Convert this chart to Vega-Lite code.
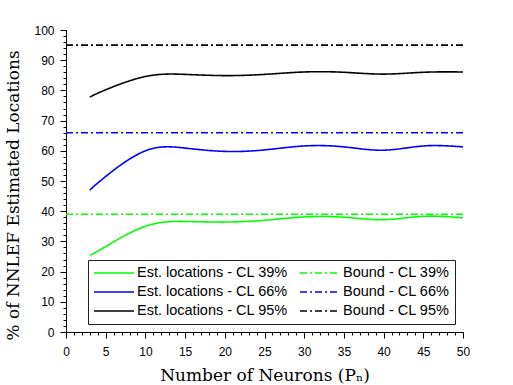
{
  "$schema": "https://vega.github.io/schema/vega-lite/v6.json",
  "width": 397,
  "height": 302,
  "autosize": {"type": "none"},
  "padding": {"left": 66, "top": 30, "right": 50, "bottom": 53},
  "background": "white",
  "config": {
    "view": {"stroke": null},
    "axis": {
      "domainColor": "black",
      "tickColor": "black",
      "labelColor": "black",
      "titleColor": "black",
      "labelFont": "Liberation Sans",
      "labelFontSize": 12,
      "titleFont": "DejaVu Serif",
      "titleFontSize": 17,
      "titleFontWeight": "normal",
      "grid": false,
      "domainWidth": 1,
      "tickWidth": 1
    }
  },
  "data": {
    "values": [
      {"kind": "est", "series": "Est. locations - CL 39%", "x": 3, "y": 25.4},
      {"kind": "est", "series": "Est. locations - CL 39%", "x": 5, "y": 28.3},
      {"kind": "est", "series": "Est. locations - CL 39%", "x": 10, "y": 35.0},
      {"kind": "est", "series": "Est. locations - CL 39%", "x": 15, "y": 36.6},
      {"kind": "est", "series": "Est. locations - CL 39%", "x": 20, "y": 36.4},
      {"kind": "est", "series": "Est. locations - CL 39%", "x": 25, "y": 37.0},
      {"kind": "est", "series": "Est. locations - CL 39%", "x": 30, "y": 38.1},
      {"kind": "est", "series": "Est. locations - CL 39%", "x": 35, "y": 38.0},
      {"kind": "est", "series": "Est. locations - CL 39%", "x": 40, "y": 37.2},
      {"kind": "est", "series": "Est. locations - CL 39%", "x": 45, "y": 38.3},
      {"kind": "est", "series": "Est. locations - CL 39%", "x": 50, "y": 37.8},
      {"kind": "est", "series": "Est. locations - CL 66%", "x": 3, "y": 47.0},
      {"kind": "est", "series": "Est. locations - CL 66%", "x": 5, "y": 51.5},
      {"kind": "est", "series": "Est. locations - CL 66%", "x": 10, "y": 60.0},
      {"kind": "est", "series": "Est. locations - CL 66%", "x": 15, "y": 60.9},
      {"kind": "est", "series": "Est. locations - CL 66%", "x": 20, "y": 59.8},
      {"kind": "est", "series": "Est. locations - CL 66%", "x": 25, "y": 60.3},
      {"kind": "est", "series": "Est. locations - CL 66%", "x": 30, "y": 61.6},
      {"kind": "est", "series": "Est. locations - CL 66%", "x": 35, "y": 61.3},
      {"kind": "est", "series": "Est. locations - CL 66%", "x": 40, "y": 60.2},
      {"kind": "est", "series": "Est. locations - CL 66%", "x": 45, "y": 61.6},
      {"kind": "est", "series": "Est. locations - CL 66%", "x": 50, "y": 61.3},
      {"kind": "est", "series": "Est. locations - CL 95%", "x": 3, "y": 77.8},
      {"kind": "est", "series": "Est. locations - CL 95%", "x": 5, "y": 80.2},
      {"kind": "est", "series": "Est. locations - CL 95%", "x": 10, "y": 84.6},
      {"kind": "est", "series": "Est. locations - CL 95%", "x": 15, "y": 85.3},
      {"kind": "est", "series": "Est. locations - CL 95%", "x": 20, "y": 84.9},
      {"kind": "est", "series": "Est. locations - CL 95%", "x": 25, "y": 85.3},
      {"kind": "est", "series": "Est. locations - CL 95%", "x": 30, "y": 86.1},
      {"kind": "est", "series": "Est. locations - CL 95%", "x": 35, "y": 86.0},
      {"kind": "est", "series": "Est. locations - CL 95%", "x": 40, "y": 85.4},
      {"kind": "est", "series": "Est. locations - CL 95%", "x": 45, "y": 86.0},
      {"kind": "est", "series": "Est. locations - CL 95%", "x": 50, "y": 86.1},
      {"kind": "bound", "series": "Bound - CL 39%", "x": 0, "y": 39},
      {"kind": "bound", "series": "Bound - CL 39%", "x": 50, "y": 39},
      {"kind": "bound", "series": "Bound - CL 66%", "x": 0, "y": 66},
      {"kind": "bound", "series": "Bound - CL 66%", "x": 50, "y": 66},
      {"kind": "bound", "series": "Bound - CL 95%", "x": 0, "y": 95},
      {"kind": "bound", "series": "Bound - CL 95%", "x": 50, "y": 95}
    ]
  },
  "layer": [
    {
      "transform": [{"filter": "datum.kind == 'est'"}],
      "mark": {"type": "line", "interpolate": "natural", "strokeWidth": 1.6},
      "encoding": {
        "x": {
          "field": "x", "type": "quantitative",
          "scale": {"domain": [0, 50], "nice": false, "zero": false},
          "axis": {
            "orient": "bottom",
            "values": [0, 5, 10, 15, 20, 25, 30, 35, 40, 45, 50],
            "tickSize": 6, "labelPadding": 8, "labelFlush": false,
            "title": "Number of Neurons (Pₙ)", "titleY": 35, "titleBaseline": "top"
          }
        },
        "y": {
          "field": "y", "type": "quantitative",
          "scale": {"domain": [0, 100], "nice": false},
          "axis": {
            "orient": "left",
            "values": [0, 10, 20, 30, 40, 50, 60, 70, 80, 90, 100],
            "tickSize": 6, "labelPadding": 6, "labelFlush": false,
            "title": "% of NNLEF Estimated Locations", "titleX": -44, "titleY": 165
          }
        },
        "color": {
          "field": "series", "type": "nominal",
          "scale": {
            "domain": ["Est. locations - CL 39%", "Est. locations - CL 66%", "Est. locations - CL 95%", "Bound - CL 39%", "Bound - CL 66%", "Bound - CL 95%"],
            "range": ["#00ff00", "#0000ff", "#000000", "#00ff00", "#0000ff", "#000000"]
          },
          "legend": {
            "orient": "none", "legendX": 22, "legendY": 230, "columns": 2,
            "title": null, "symbolType": "stroke", "symbolSize": 1600,
            "symbolStrokeWidth": 1.6, "labelFont": "Liberation Sans",
            "labelFontSize": 14.5, "labelColor": "black", "labelOffset": 2,
            "columnPadding": 11, "rowPadding": 3, "clipHeight": 16,
            "padding": 5, "strokeColor": "#222222", "fillColor": "white",
            "labelLimit": 300
          }
        },
        "strokeDash": {
          "field": "series", "type": "nominal",
          "scale": {
            "domain": ["Est. locations - CL 39%", "Est. locations - CL 66%", "Est. locations - CL 95%", "Bound - CL 39%", "Bound - CL 66%", "Bound - CL 95%"],
            "range": [[1, 0], [1, 0], [1, 0], [7, 3, 2, 3], [7, 3, 2, 3], [7, 3, 2, 3]]
          },
          "legend": {
            "orient": "none", "legendX": 22, "legendY": 230, "columns": 2,
            "title": null, "symbolType": "stroke", "symbolSize": 1600,
            "symbolStrokeWidth": 1.6, "labelFont": "Liberation Sans",
            "labelFontSize": 14.5, "labelColor": "black", "labelOffset": 2,
            "columnPadding": 11, "rowPadding": 3, "clipHeight": 16,
            "padding": 5, "strokeColor": "#222222", "fillColor": "white",
            "labelLimit": 300
          }
        }
      }
    },
    {
      "transform": [{"filter": "datum.kind == 'bound'"}],
      "mark": {"type": "line", "strokeWidth": 1.6},
      "encoding": {
        "x": {
          "field": "x", "type": "quantitative",
          "axis": {
            "orient": "bottom", "domain": false, "labels": false, "title": null,
            "tickSize": 3,
            "values": [0,1,2,3,4,5,6,7,8,9,10,11,12,13,14,15,16,17,18,19,20,21,22,23,24,25,26,27,28,29,30,31,32,33,34,35,36,37,38,39,40,41,42,43,44,45,46,47,48,49,50]
          }
        },
        "y": {
          "field": "y", "type": "quantitative",
          "axis": {
            "orient": "left", "domain": false, "labels": false, "title": null,
            "tickSize": 3,
            "values": [0,2,4,6,8,10,12,14,16,18,20,22,24,26,28,30,32,34,36,38,40,42,44,46,48,50,52,54,56,58,60,62,64,66,68,70,72,74,76,78,80,82,84,86,88,90,92,94,96,98,100]
          }
        },
        "color": {"field": "series", "type": "nominal"},
        "strokeDash": {"field": "series", "type": "nominal"}
      }
    }
  ],
  "resolve": {"axis": {"x": "independent", "y": "independent"}}
}
